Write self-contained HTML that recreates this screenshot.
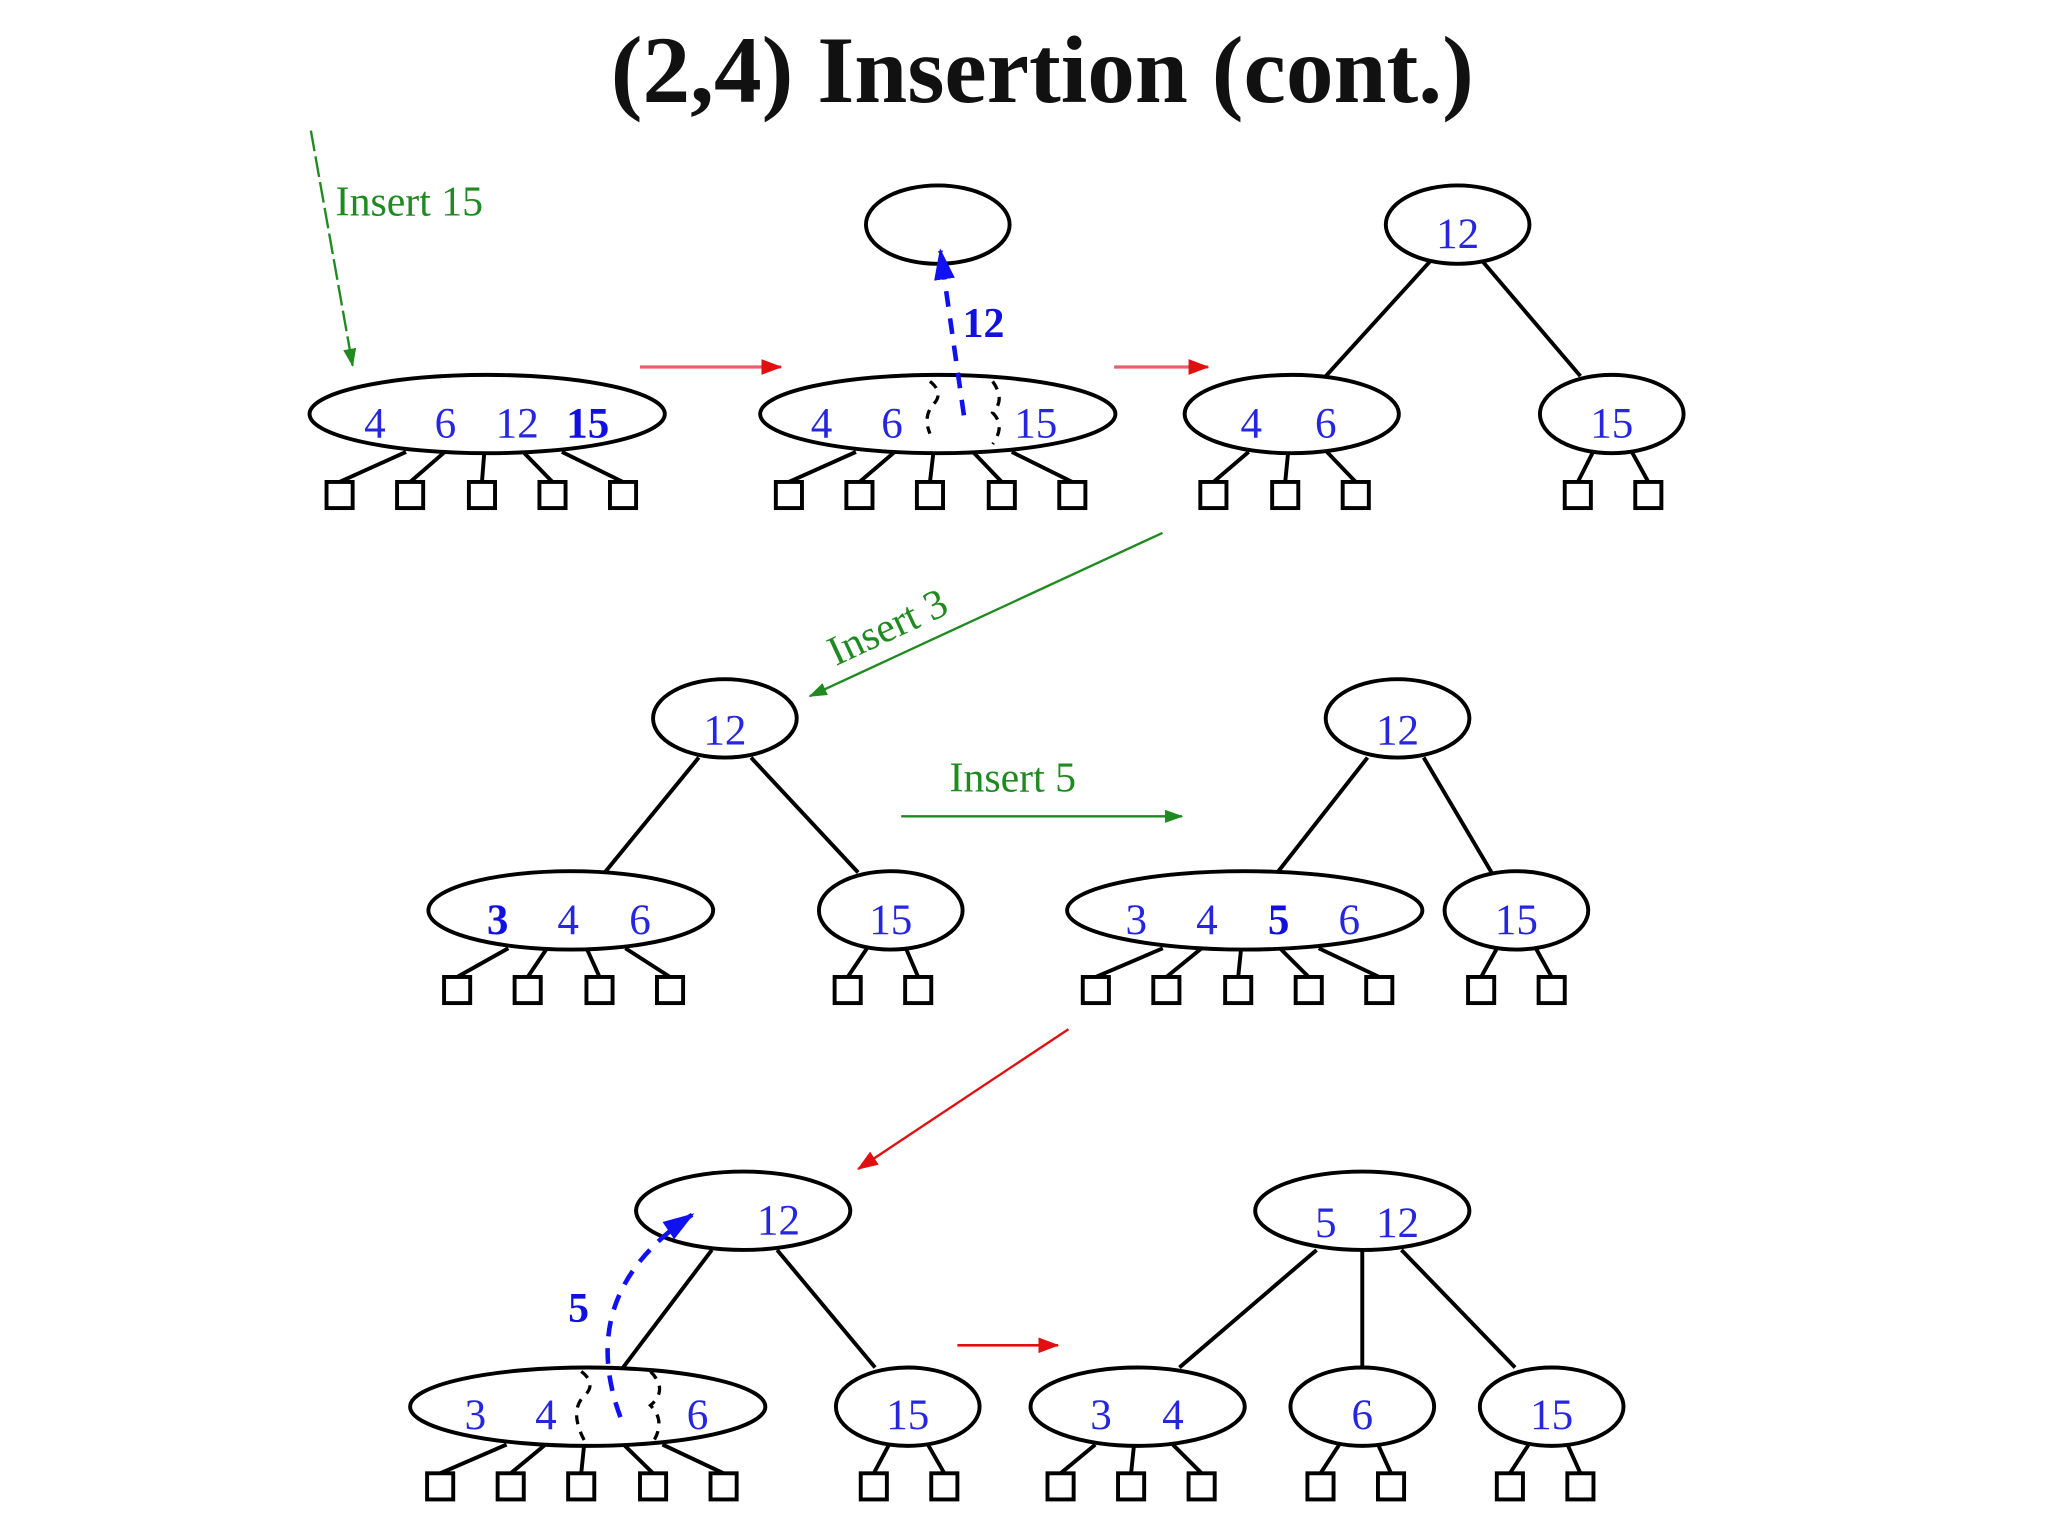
<!DOCTYPE html>
<html><head><meta charset="utf-8"><style>
html,body{margin:0;padding:0;background:#fff;}
svg{display:block}
text{font-family:"Liberation Serif",serif;}
.k{fill:#2626e0;font-size:33px;text-anchor:middle}
.b{font-weight:bold;fill:#1010e0}
.g{fill:#1f8a1f;font-size:32px}
</style></head><body>
<svg id="s" width="2048" height="1536" viewBox="0 0 1568 1176" xmlns="http://www.w3.org/2000/svg">
<defs>
<marker id="ar" markerWidth="16" markerHeight="12" refX="15" refY="6" orient="auto" markerUnits="userSpaceOnUse"><path d="M0,0L16,6L0,12z" fill="#e01010"/></marker>
<marker id="ag" markerWidth="14" markerHeight="10" refX="13" refY="5" orient="auto" markerUnits="userSpaceOnUse"><path d="M0,0L14,5L0,10z" fill="#1f8a1f"/></marker>
<marker id="ab" markerWidth="24" markerHeight="16" refX="22" refY="8" orient="auto" markerUnits="userSpaceOnUse"><path d="M0,0L24,8L0,16z" fill="#1010f0"/></marker>
</defs>
<text x="798" y="78" text-anchor="middle" style="font-size:73px;font-weight:bold;fill:#111">(2,4) Insertion (cont.)</text>
<g fill="none" stroke="#000" stroke-width="3">
<ellipse cx="373" cy="317" rx="136" ry="30"/>
<ellipse cx="718" cy="317" rx="136" ry="30"/>
<ellipse cx="718" cy="172" rx="55" ry="30"/>
<ellipse cx="1116" cy="172" rx="55" ry="30"/>
<ellipse cx="989" cy="317" rx="82" ry="30"/>
<ellipse cx="1234" cy="317" rx="55" ry="30"/>
<ellipse cx="555" cy="550" rx="55" ry="30"/>
<ellipse cx="437" cy="697" rx="109" ry="30"/>
<ellipse cx="682" cy="697" rx="55" ry="30"/>
<ellipse cx="1070" cy="550" rx="55" ry="30"/>
<ellipse cx="953" cy="697" rx="136" ry="30"/>
<ellipse cx="1161" cy="697" rx="55" ry="30"/>
<ellipse cx="569" cy="927" rx="82" ry="30"/>
<ellipse cx="450" cy="1077" rx="136" ry="30"/>
<ellipse cx="695" cy="1077" rx="55" ry="30"/>
<ellipse cx="1043" cy="927" rx="82" ry="30"/>
<ellipse cx="871" cy="1077" rx="82" ry="30"/>
<ellipse cx="1043" cy="1077" rx="55" ry="30"/>
<ellipse cx="1188" cy="1077" rx="55" ry="30"/>
<path d="M1095 200L1015 288M1135 200L1210 288M535 580L463 668M575 580L657 668M1047 580L978 668M1090 580L1142 668M545 957L477 1047M595 957L670 1047M1008 957L903 1047M1043 957L1043 1047M1073 957L1160 1047"/>
<g id="leaves"></g>
<g stroke-dasharray="7,6" stroke-width="2.5">
<path d="M712 292Q722 300 716 308Q706 318 712 332M760 292Q770 306 760 316Q770 326 760 340"/>
<path d="M445 1050Q458 1060 446 1070Q436 1082 448 1104M498 1050Q512 1064 498 1076Q510 1088 500 1104"/>
</g>
</g>
<line x1="238" y1="100" x2="270" y2="280" stroke="#1f8a1f" stroke-width="1.8" stroke-dasharray="16,4" marker-end="url(#ag)"/>
<text x="257" y="165" class="g">Insert 15</text>
<line x1="490" y1="281" x2="598" y2="281" stroke="#e86070" stroke-width="2.5" marker-end="url(#ar)"/>
<line x1="853" y1="281" x2="925" y2="281" stroke="#e86070" stroke-width="2.5" marker-end="url(#ar)"/>
<line x1="890" y1="408" x2="620" y2="533" stroke="#1f8a1f" stroke-width="1.8" marker-end="url(#ag)"/>
<text x="640" y="510" class="g" transform="rotate(-25 640 510)">Insert 3</text>
<line x1="690" y1="625" x2="905" y2="625" stroke="#1f8a1f" stroke-width="1.8" marker-end="url(#ag)"/>
<text x="727" y="606" class="g">Insert 5</text>
<line x1="818" y1="788" x2="657" y2="895" stroke="#e01010" stroke-width="1.8" marker-end="url(#ar)"/>
<line x1="733" y1="1030" x2="810" y2="1030" stroke="#e01010" stroke-width="2" marker-end="url(#ar)"/>
<line x1="738" y1="318" x2="720" y2="192" stroke="#1010f0" stroke-width="3.5" stroke-dasharray="12,9" marker-end="url(#ab)"/>
<path d="M475 1085Q440 990 530 930" fill="none" stroke="#1010f0" stroke-width="3.5" stroke-dasharray="12,9" marker-end="url(#ab)"/>
<text x="753" y="258" class="k b" style="font-size:32px">12</text>
<text x="443" y="1012" class="k b" style="font-size:32px">5</text>
<g class="k">
<text x="287" y="335" class="k">4</text><text x="341" y="335" class="k">6</text><text x="396" y="335" class="k">12</text><text x="450" y="335" class="k b">15</text>
<text x="629" y="335" class="k">4</text><text x="683" y="335" class="k">6</text><text x="793" y="335" class="k">15</text>
<text x="1116" y="190" class="k">12</text><text x="958" y="335" class="k">4</text><text x="1015" y="335" class="k">6</text><text x="1234" y="335" class="k">15</text>
<text x="555" y="570" class="k">12</text><text x="381" y="715" class="k b">3</text><text x="435" y="715" class="k">4</text><text x="490" y="715" class="k">6</text><text x="682" y="715" class="k">15</text>
<text x="1070" y="570" class="k">12</text><text x="870" y="715" class="k">3</text><text x="924" y="715" class="k">4</text><text x="979" y="715" class="k b">5</text><text x="1033" y="715" class="k">6</text><text x="1161" y="715" class="k">15</text>
<text x="596" y="945" class="k">12</text><text x="364" y="1094" class="k">3</text><text x="418" y="1094" class="k">4</text><text x="534" y="1094" class="k">6</text><text x="695" y="1094" class="k">15</text>
<text x="1015" y="947" class="k">5</text><text x="1070" y="947" class="k">12</text><text x="843" y="1094" class="k">3</text><text x="898" y="1094" class="k">4</text><text x="1043" y="1094" class="k">6</text><text x="1188" y="1094" class="k">15</text>
</g>
</svg>
<script>
var N=[[373,317,379,[260,314,369,423,477]],[718,317,379,[604,658,712,767,821]],[989,317,379,[929,984,1038]],[1234,317,379,[1208,1262]],
[437,697,758,[350,404,459,513]],[682,697,758,[649,703]],[953,697,758,[839,893,948,1002,1056]],[1161,697,758,[1134,1188]],
[450,1077,1138,[337,391,445,500,554]],[695,1077,1138,[669,723]],[871,1077,1138,[812,866,920]],[1043,1077,1138,[1011,1065]],[1188,1077,1138,[1156,1210]]];
var h='';N.forEach(function(n){var cx=n[0],cy=n[1],ly=n[2];n[3].forEach(function(lx){var ax=cx+(lx-cx)*0.55;h+='<line x1="'+ax+'" y1="'+(cy+29)+'" x2="'+lx+'" y2="'+(ly-10)+'"/><rect x="'+(lx-10)+'" y="'+(ly-10)+'" width="20" height="20" fill="#fff"/>';});});
document.getElementById('leaves').innerHTML=h;
</script>
</body></html>
